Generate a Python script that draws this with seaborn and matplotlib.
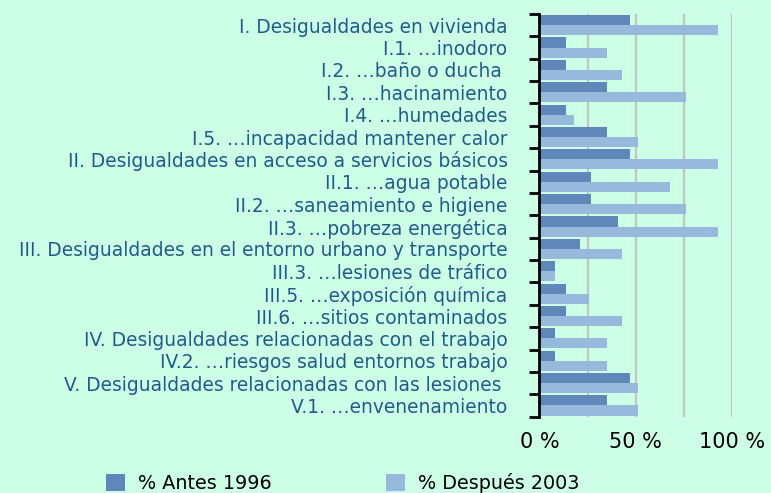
import pandas as pd
import numpy as np
import matplotlib.pyplot as plt
import seaborn as sns
from matplotlib.patches import Patch
from matplotlib.ticker import MultipleLocator, FixedLocator

categories = [
    "I. Desigualdades en vivienda",
    "I.1. \u2026inodoro",
    "I.2. \u2026baño o ducha ",
    "I.3. \u2026hacinamiento",
    "I.4. \u2026humedades",
    "I.5. \u2026incapacidad mantener calor",
    "II. Desigualdades en acceso a servicios básicos",
    "II.1. \u2026agua potable",
    "II.2. \u2026saneamiento e higiene",
    "II.3. \u2026pobreza energética",
    "III. Desigualdades en el entorno urbano y transporte",
    "III.3. \u2026lesiones de tráfico",
    "III.5. \u2026exposición química",
    "III.6. \u2026sitios contaminados",
    "IV. Desigualdades relacionadas con el trabajo",
    "IV.2. \u2026riesgos salud entornos trabajo",
    "V. Desigualdades relacionadas con las lesiones ",
    "V.1. \u2026envenenamiento",
]
antes_1996 = [47, 14, 14, 35, 14, 35, 47, 27, 27, 41, 21, 8, 14, 14, 8, 8, 47, 35]
despues_2003 = [93, 35, 43, 76, 18, 51, 93, 68, 76, 93, 43, 8, 26, 43, 35, 35, 51, 51]
series_names = ["% Antes 1996", "% Después 2003"]

bg = "#ccffe6"
dark = "#5f87b9"
light = "#96b9dc"
label_col = "#1f5a8a"

df = pd.DataFrame({
    "cat": categories * 2,
    "val": antes_1996 + despues_2003,
    "serie": [series_names[0]] * len(categories) + [series_names[1]] * len(categories),
})

fig = plt.figure(figsize=(7.71, 4.93), dpi=100, facecolor=bg)
ax = fig.add_axes([0.6997, 0.1548, 0.9491 - 0.6997, 0.9716 - 0.1548])
ax.set_facecolor(bg)

sns.barplot(data=df, x="val", y="cat", hue="serie", orient="h",
            palette=[dark, light], width=0.9, saturation=1, ax=ax, legend=False)

ax.set_xlim(0, 100)
ax.set_ylim(len(categories) - 0.5, -0.5)
ax.xaxis.set_major_locator(FixedLocator([0, 50, 100]))
ax.xaxis.set_minor_locator(FixedLocator([25, 75]))
ax.set_xticklabels(["0 %", "50 %", "100 %"])
ax.grid(axis="x", which="both", color="#c4c4c4", linewidth=1.6)
ax.set_axisbelow(True)
ax.tick_params(axis="x", which="both", length=0, pad=11, labelsize=15, labelcolor="black")

ax.yaxis.set_minor_locator(FixedLocator(np.arange(-0.5, len(categories), 1)))
ax.tick_params(axis="y", which="major", length=0, pad=23, labelsize=13.4, labelcolor=label_col)
ax.tick_params(axis="y", which="minor", length=7, width=2, color="black", direction="out")

for s in ["top", "right", "bottom"]:
    ax.spines[s].set_visible(False)
ax.spines["left"].set_linewidth(2)
ax.spines["left"].set_color("black")
ax.set_xlabel("")
ax.set_ylabel("")

handles = [Patch(facecolor=dark, edgecolor="none"), Patch(facecolor=light, edgecolor="none")]
fig.legend(handles, series_names, loc="center left", bbox_to_anchor=(0.115, 0.02),
           ncol=2, frameon=False, fontsize=13.8, handlelength=1.0, handleheight=1.0,
           handletextpad=0.65, columnspacing=6.0)

fig.savefig("out.png", dpi=100, facecolor=bg)
